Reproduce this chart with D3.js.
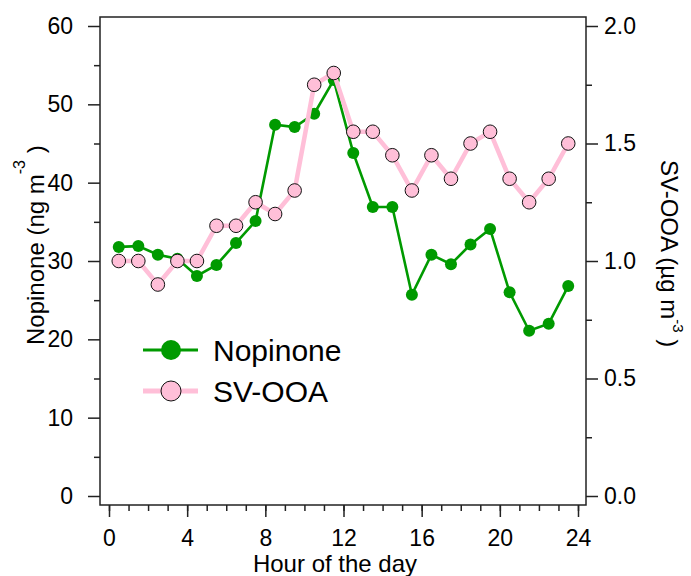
<!DOCTYPE html>
<meta charset="utf-8">
<style>
body { margin: 0; background: #fff; }
text { font-family: "Liberation Sans", Arial, sans-serif; fill: #000; }
.axis path { display: none; }
.axis line { stroke: #222; stroke-width: 1.5; }
.axis text { font-size: 23px; font-family: "Liberation Sans", Arial, sans-serif; fill: #000; }
</style>
<body>
<script src="https://cdn.jsdelivr.net/npm/d3@7"></script>
<script>

// hourly diurnal averages, centred on the half hour
var hours = [0.5, 1.5, 2.5, 3.5, 4.5, 5.5, 6.5, 7.5, 8.5, 9.5, 10.5, 11.5,
             12.5, 13.5, 14.5, 15.5, 16.5, 17.5, 18.5, 19.5, 20.5, 21.5, 22.5, 23.5];
var nopinone = [31.8, 31.9, 30.8, 30.3, 28.1, 29.5, 32.3, 35.1, 47.4, 47.1, 48.8, 53.1,
                43.8, 36.9, 36.9, 25.7, 30.8, 29.6, 32.1, 34.1, 26.0, 21.1, 22.0, 26.8];
var svooa = [1.00, 1.00, 0.90, 1.00, 1.00, 1.15, 1.15, 1.25, 1.20, 1.30, 1.75, 1.80,
             1.55, 1.55, 1.45, 1.30, 1.45, 1.35, 1.50, 1.55, 1.35, 1.25, 1.35, 1.50];

var xTicks = [0, 4, 8, 12, 16, 20, 24];
var xMinor = d3.range(0, 25, 1);
var yLeftTicks = [0, 10, 20, 30, 40, 50, 60];
var yLeftMinor = [5, 15, 25, 35, 45, 55];
var yRightTicks = [0, 0.5, 1.0, 1.5, 2.0];
var yRightMinor = [0.25, 0.75, 1.25, 1.75];

var width = 691, height = 576;
var frame = {left: 100, right: 586, top: 17, bottom: 505};
var green = "#009a00", pink = "#ffbfd8";

var svg = d3.select("body").append("svg")
    .attr("width", width)
    .attr("height", height);

var x = d3.scaleLinear().domain([0, 24]).range([109, 578]);
var yL = d3.scaleLinear().domain([0, 60]).range([496, 26]);
var yR = d3.scaleLinear().domain([0, 2]).range([496, 26]);

// axes: major + minor ticks
function addAxis(axis, tx, ty) {
  svg.append("g").attr("class", "axis")
      .attr("transform", "translate(" + tx + "," + ty + ")")
      .call(axis);
}
addAxis(d3.axisBottom(x).tickValues(xMinor).tickSize(6).tickFormat(""), 0, frame.bottom);
addAxis(d3.axisBottom(x).tickValues(xTicks).tickSize(12).tickPadding(13).tickFormat(d3.format("d")), 0, frame.bottom);
addAxis(d3.axisLeft(yL).tickValues(yLeftMinor).tickSize(6).tickFormat(""), frame.left, 0);
addAxis(d3.axisLeft(yL).tickValues(yLeftTicks).tickSize(12).tickPadding(15).tickFormat(d3.format("d")), frame.left, 0);
addAxis(d3.axisRight(yR).tickValues(yRightMinor).tickSize(6).tickFormat(""), frame.right, 0);
addAxis(d3.axisRight(yR).tickValues(yRightTicks).tickSize(12).tickPadding(6).tickFormat(d3.format(".1f")), frame.right, 0);

svg.append("rect")
    .attr("x", frame.left).attr("y", frame.top)
    .attr("width", frame.right - frame.left)
    .attr("height", frame.bottom - frame.top)
    .attr("fill", "none").attr("stroke", "#222").attr("stroke-width", 1.5);

// series
var lineL = d3.line().x(function(d, i) { return x(hours[i]); }).y(function(d) { return yL(d); });
var lineR = d3.line().x(function(d, i) { return x(hours[i]); }).y(function(d) { return yR(d); });

svg.append("path").datum(nopinone)
    .attr("d", lineL).attr("fill", "none")
    .attr("stroke", green).attr("stroke-width", 2.6);
svg.selectAll("circle.nop").data(nopinone).enter().append("circle")
    .attr("class", "nop")
    .attr("cx", function(d, i) { return x(hours[i]); })
    .attr("cy", function(d) { return yL(d); })
    .attr("r", 6).attr("fill", green);

svg.append("path").datum(svooa)
    .attr("d", lineR).attr("fill", "none")
    .attr("stroke", pink).attr("stroke-width", 4.5);
svg.selectAll("circle.sv").data(svooa).enter().append("circle")
    .attr("class", "sv")
    .attr("cx", function(d, i) { return x(hours[i]); })
    .attr("cy", function(d) { return yR(d); })
    .attr("r", 6.8).attr("fill", pink)
    .attr("stroke", "#111").attr("stroke-width", 1);

// axis titles
var tl = svg.append("text")
    .attr("transform", "translate(44,345) rotate(-90)")
    .style("font-size", "24px");
tl.append("tspan").text("Nopinone (ng m");
tl.append("tspan").attr("dy", -19).style("font-size", "16px").text("-3");
tl.append("tspan").attr("dy", 19).text(" )");

var tr = svg.append("text")
    .attr("transform", "translate(661,160) rotate(90)")
    .style("font-size", "24px");
tr.append("tspan").text("SV-OOA (\u00b5g m");
tr.append("tspan").attr("dy", -12).style("font-size", "15px").text("-3");
tr.append("tspan").attr("dy", 12).text(" )");

svg.append("text")
    .attr("x", 335).attr("y", 572)
    .attr("text-anchor", "middle")
    .style("font-size", "24px")
    .text("Hour of the day");

// legend
var legend = [
  {name: "Nopinone", color: green, stroke: "none", width: 3, y: 350},
  {name: "SV-OOA", color: pink, stroke: "#111", width: 5, y: 391}
];
var lg = svg.selectAll("g.legend").data(legend).enter().append("g")
    .attr("class", "legend")
    .attr("transform", function(d) { return "translate(143," + d.y + ")"; });
lg.append("line")
    .attr("x1", 0).attr("x2", 55).attr("y1", 0).attr("y2", 0)
    .attr("stroke", function(d) { return d.color; })
    .attr("stroke-width", function(d) { return d.width; });
lg.append("circle")
    .attr("cx", 28).attr("cy", 0).attr("r", 10)
    .attr("fill", function(d) { return d.color; })
    .attr("stroke", function(d) { return d.stroke; })
    .attr("stroke-width", 1);
lg.append("text")
    .attr("x", 70).attr("y", 10.5)
    .style("font-size", "30px")
    .text(function(d) { return d.name; });

</script>
</body>
